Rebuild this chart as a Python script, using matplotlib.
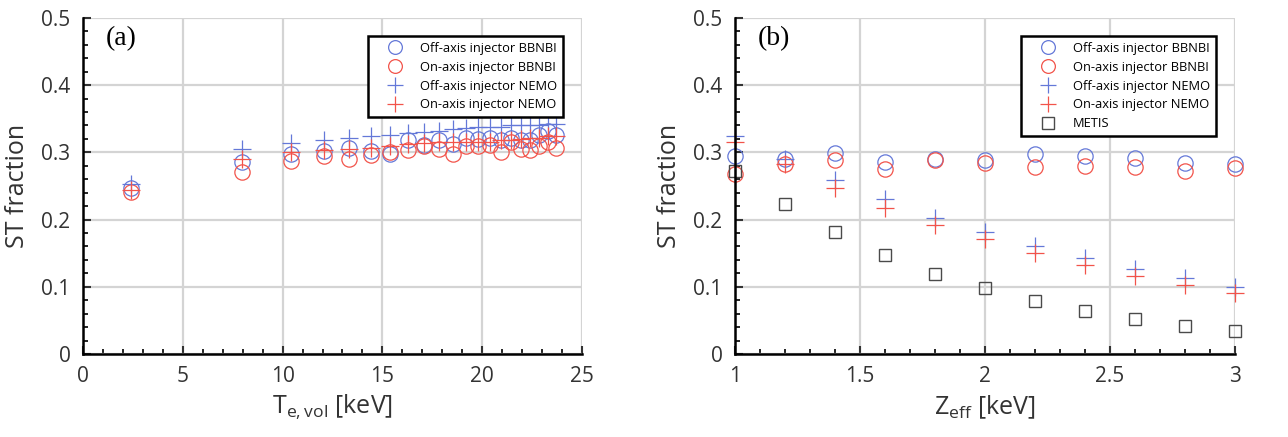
import numpy as np
import matplotlib
matplotlib.use("Agg")
import matplotlib.pyplot as plt
from matplotlib.ticker import MultipleLocator, FormatStrFormatter

plt.rcParams['font.family'] = ['Open Sans', 'DejaVu Sans']

BLUE = '#6478d8'
RED = '#f2534a'
GREY = '#4a4a4a'

# (a) scan in volume-averaged electron temperature
te = [2.4, 7.95, 10.4, 12.05, 13.35, 14.45, 15.4, 16.3, 17.1, 17.85, 18.55,
      19.2, 19.8, 20.4, 20.95, 21.45, 21.95, 22.4, 22.85, 23.3, 23.7]
a_off_bb = [0.247, 0.285, 0.298, 0.302, 0.307, 0.302, 0.298, 0.318, 0.311, 0.319, 0.313,
            0.321, 0.320, 0.321, 0.319, 0.321, 0.318, 0.318, 0.326, 0.332, 0.326]
a_on_bb = [0.241, 0.271, 0.287, 0.294, 0.290, 0.296, 0.300, 0.304, 0.309, 0.305, 0.297,
           0.310, 0.310, 0.311, 0.300, 0.316, 0.305, 0.303, 0.309, 0.316, 0.307]
a_off_nemo = [0.253, 0.305, 0.314, 0.318, 0.321, 0.324, 0.326, 0.329, 0.330, 0.332, 0.334,
              0.336, 0.337, 0.338, 0.338, 0.340, 0.340, 0.340, 0.340, 0.342, 0.342]
a_on_nemo = [0.244, 0.290, 0.300, 0.303, 0.305, 0.306, 0.309, 0.313, 0.314, 0.315, 0.315,
             0.316, 0.316, 0.316, 0.318, 0.319, 0.320, 0.321, 0.322, 0.324, 0.324]

# (b) scan in effective charge
zeff = [1.0, 1.2, 1.4, 1.6, 1.8, 2.0, 2.2, 2.4, 2.6, 2.8, 3.0]
b_off_bb = [0.295, 0.290, 0.299, 0.286, 0.290, 0.289, 0.298, 0.294, 0.291, 0.284, 0.283]
b_on_bb = [0.268, 0.283, 0.288, 0.275, 0.288, 0.284, 0.278, 0.280, 0.278, 0.272, 0.277]
b_off_nemo = [0.325, 0.290, 0.259, 0.230, 0.202, 0.181, 0.161, 0.143, 0.126, 0.113, 0.100]
b_on_nemo = [0.316, 0.282, 0.247, 0.217, 0.192, 0.171, 0.150, 0.133, 0.116, 0.103, 0.091]
b_metis = [0.272, 0.223, 0.182, 0.147, 0.119, 0.098, 0.079, 0.064, 0.052, 0.042, 0.034]

LABELS = ['Off-axis injector BBNBI', 'On-axis injector BBNBI',
          'Off-axis injector NEMO', 'On-axis injector NEMO', 'METIS']


def series(ax, x, off_bb, on_bb, off_nemo, on_nemo):
    ax.plot(x, off_bb, 'o', ms=11, mfc='none', mec=BLUE, mew=0.9, label=LABELS[0])
    ax.plot(x, on_bb, 'o', ms=11, mfc='none', mec=RED, mew=0.9, label=LABELS[1])
    ax.plot(x, off_nemo, '+', ms=13, mec=BLUE, mew=0.9, label=LABELS[2])
    ax.plot(x, on_nemo, '+', ms=13, mec=RED, mew=0.9, label=LABELS[3])


def style(ax, xlim, xmaj, xmin, tag):
    ax.set_xlim(*xlim)
    ax.set_ylim(0, 0.5)
    ax.xaxis.set_major_locator(MultipleLocator(xmaj))
    ax.xaxis.set_minor_locator(MultipleLocator(xmin))
    ax.yaxis.set_major_locator(MultipleLocator(0.1))
    ax.yaxis.set_minor_locator(MultipleLocator(0.02))
    ax.xaxis.set_major_formatter(FormatStrFormatter('%g'))
    ax.yaxis.set_major_formatter(FormatStrFormatter('%g'))
    ax.grid(True, color='#d4d4d4', lw=1.6)
    ax.set_axisbelow(True)
    for s in ('top', 'right'):
        ax.spines[s].set_visible(False)
    for s in ('left', 'bottom'):
        ax.spines[s].set_linewidth(1.8)
    ax.tick_params(which='major', direction='in', length=6, width=1.5,
                   labelsize=15, colors='#333333', pad=9)
    ax.tick_params(which='minor', direction='in', length=3.5, width=1.2)
    ax.set_ylabel('ST fraction', fontsize=18, color='#333333', labelpad=8)
    ax.text(0.045, 0.975, tag, transform=ax.transAxes, fontsize=20,
            family='Liberation Serif', va='top')
    leg = ax.legend(loc='upper right', bbox_to_anchor=(0.975, 0.965), fontsize=9.3,
                    frameon=True, fancybox=False, edgecolor='black',
                    framealpha=1, borderpad=0.45, labelspacing=0.45,
                    handletextpad=0.3, handlelength=3.3, markerscale=0.9)
    leg.get_frame().set_linewidth(1.8)
    leg.set_zorder(10)


fig = plt.figure(figsize=(12.88, 4.37), dpi=100)
ax1 = fig.add_axes([0.0644, 0.19, 0.3875, 0.769])
ax2 = fig.add_axes([0.5707, 0.19, 0.3882, 0.769])

series(ax1, te, a_off_bb, a_on_bb, a_off_nemo, a_on_nemo)
style(ax1, (0, 25), 5, 1, '(a)')
ax1.set_xlabel(r'T$_{\mathregular{e,vol}}$ [keV]', fontsize=18, color='#333333')

series(ax2, zeff, b_off_bb, b_on_bb, b_off_nemo, b_on_nemo)
ax2.plot(zeff, b_metis, 's', ms=9, mfc='none', mec=GREY, mew=1.0, label=LABELS[4])
style(ax2, (1, 3), 0.5, 0.1, '(b)')
ax2.set_xlabel(r'Z$_{\mathregular{eff}}$ [keV]', fontsize=18, color='#333333')
for ax in (ax1, ax2):
    for ln in ax.lines:
        ln.set_clip_on(False)

fig.savefig('out.png', dpi=100)
